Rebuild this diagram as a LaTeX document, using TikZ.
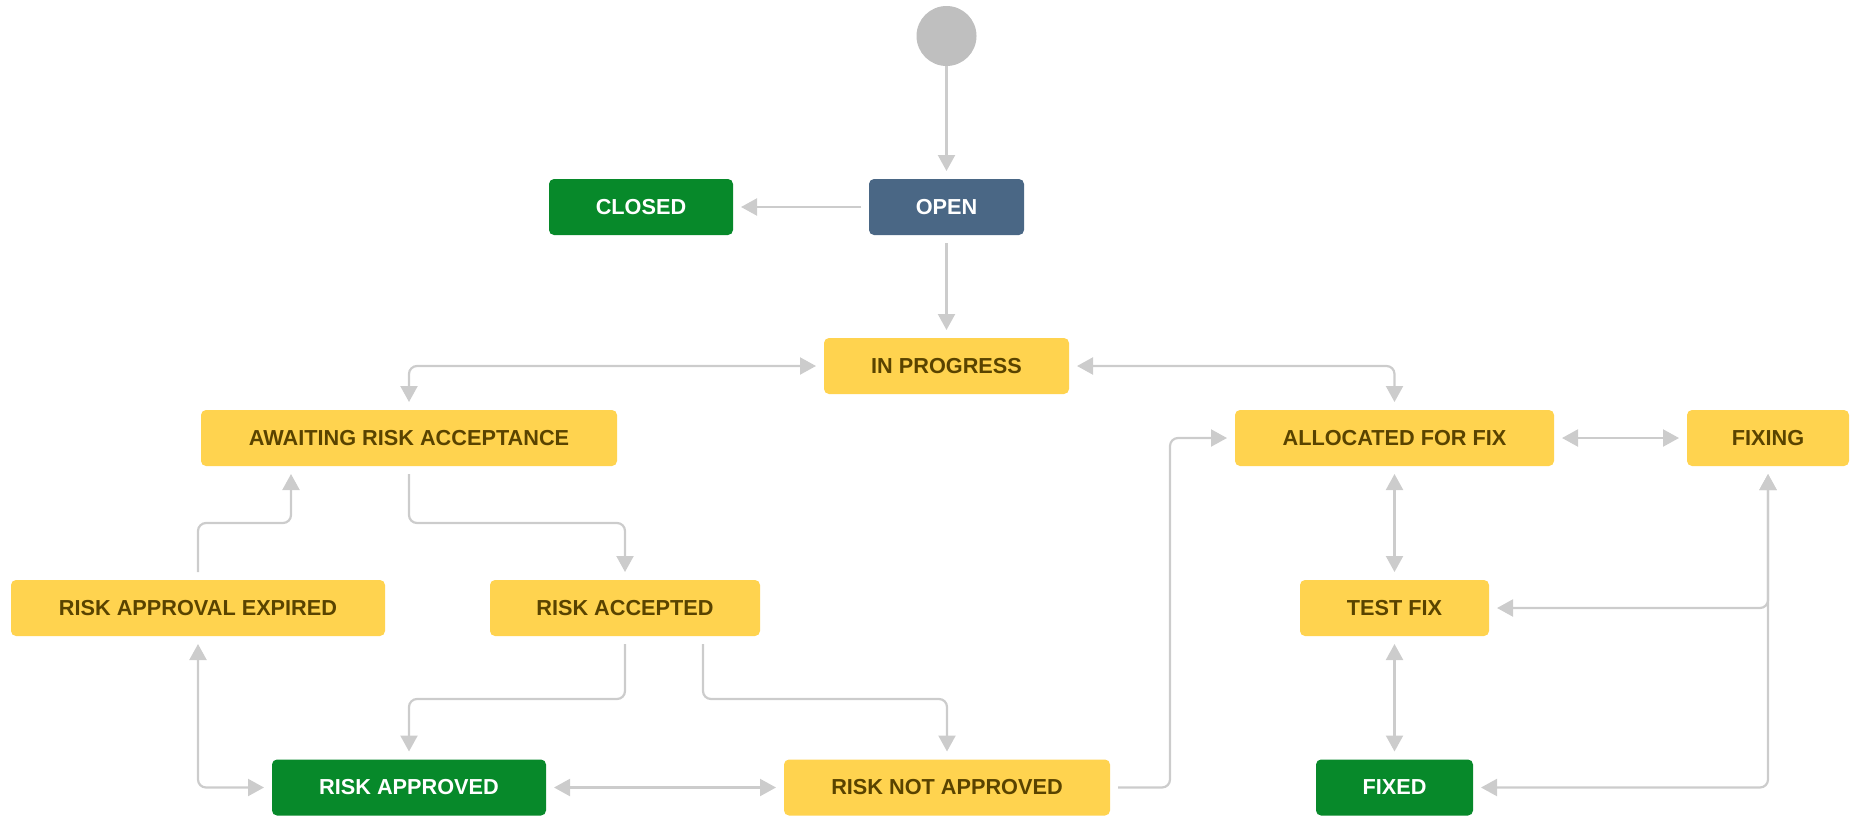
\documentclass[tikz,border=0pt]{standalone}
\usepackage{fontspec}
\setmainfont{Liberation Sans}
\usetikzlibrary{arrows.meta,calc}
\definecolor{jyellow}{HTML}{FFD34F}
\definecolor{jbrown}{HTML}{594300}
\definecolor{jgreen}{HTML}{07892A}
\definecolor{jblue}{HTML}{4A6785}
\definecolor{jgrey}{HTML}{CCCCCC}
\definecolor{jstart}{HTML}{BFBFBF}
\tikzset{
  state/.style={rectangle,rounded corners=2.5pt,fill=jyellow,text=jbrown,
    minimum height=28pt,outer sep=4pt,font=\fontsize{10.85}{13}\selectfont\bfseries},
  done/.style={state,fill=jgreen,text=white},
  start/.style={circle,fill=jstart,minimum size=30pt,inner sep=0pt},
  flow/.style={draw=jgrey,line width=1.1pt,rounded corners=4pt}
}
\begin{document}
\begin{tikzpicture}[x=0.5pt,y=-0.5pt,>={Triangle[length=8pt,width=8.5pt]}]
\useasboundingbox (0,0) rectangle (1851,815);
\node (s) [start] at (946.5,36) {};
\node (op) [state,fill=jblue,text=white,minimum width=77.5pt] at (946.5,207) {OPEN};
\node (cl) [done,minimum width=92pt] at (641,207) {CLOSED};
\node (ip) [state,minimum width=122.5pt] at (946.5,366) {IN PROGRESS};
\node (ar) [state,minimum width=208pt] at (409,438) {AWAITING RISK ACCEPTANCE};
\node (af) [state,minimum width=159.5pt] at (1394.5,438) {ALLOCATED FOR FIX};
\node (fx) [state,minimum width=81pt] at (1768,438) {FIXING};
\node (re) [state,minimum width=187pt] at (198,608) {RISK APPROVAL EXPIRED};
\node (ra) [state,minimum width=135pt] at (625,608) {RISK ACCEPTED};
\node (tf) [state,minimum width=94.5pt] at (1394.5,608) {TEST FIX};
\node (ap) [done,minimum width=137pt] at (409,787.5) {RISK APPROVED};
\node (na) [state,minimum width=163pt] at (947,787.5) {RISK NOT APPROVED};
\node (fd) [done,minimum width=78.5pt] at (1394.5,787.5) {FIXED};

\draw [flow,->] (s) -- (op);
\draw [flow,->] (op) -- (cl);
\draw [flow,->] (op) -- (ip);
\draw [flow,<->] (ip) -| (ar);
\draw [flow,<->] (ip) -| (af);
\draw [flow,<->] (af) -- (fx);
\draw [flow,<->] (af) -- (tf);
\draw [flow,<->] (tf) -- (fd);
\draw [flow,<->] (tf) -| (fx);
\draw [flow,<->] (fd) -| (fx);
\draw [flow,->] (re.north) -- ++(0,-49) -| ($(ar.south)+(-118,0)$);
\draw [flow,->] (ar.south) -- ++(0,49) -| (ra.north);
\draw [flow,<->] (re) |- (ap);
\draw [flow,->] (ra.south) -- ++(0,55) -| (ap.north);
\draw [flow,->] ($(ra.south)+(78,0)$) -- ++(0,55) -| (na.north);
\draw [flow,<->] (ap) -- (na);
\draw [flow,->] (na.east) -- ++(52,0) |- (af.west);
\end{tikzpicture}
\end{document}
